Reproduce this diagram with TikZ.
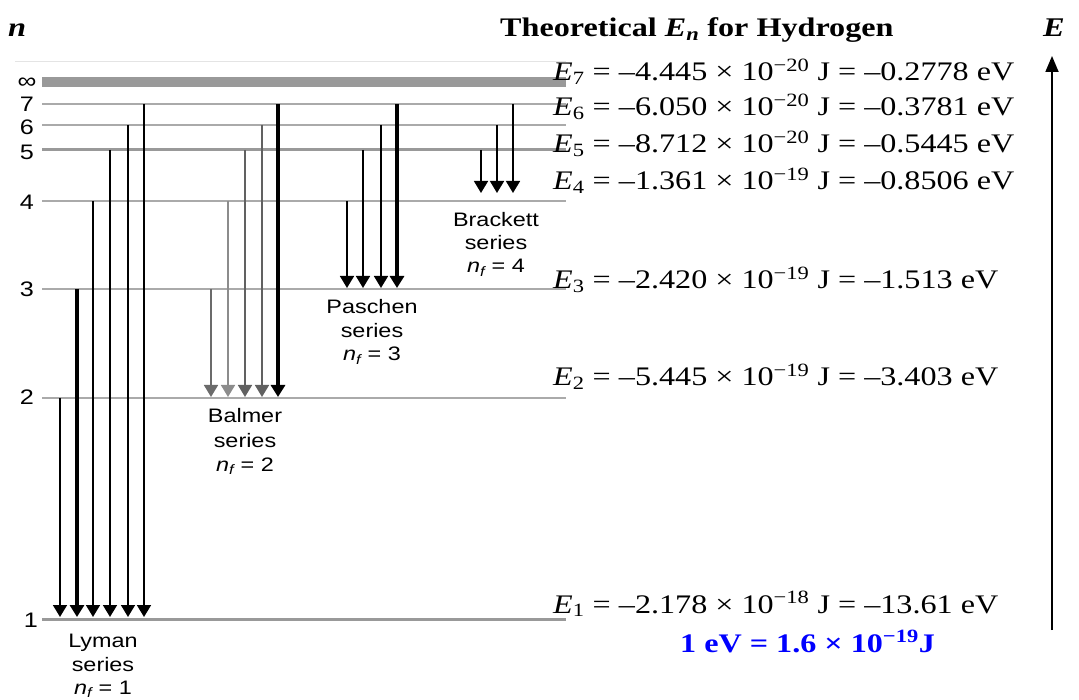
\documentclass[tikz,border=0pt]{standalone}
\usepackage{graphicx}
\usepackage{fontspec}
\setmainfont{Liberation Serif}
\newfontfamily\lsans{Liberation Sans}
\usetikzlibrary{arrows.meta}
\definecolor{levgray}{HTML}{AAAAAA}
\definecolor{bargray}{HTML}{999999}
\definecolor{faint}{HTML}{E4E4E4}
\newcommand\hstretch[1]{\scalebox{1.2}[1]{#1}}
\newcommand\Eline[4]{\textit{E}\textsubscript{#1} = –#2 × 10\textsuperscript{−#3} J = –#4 eV}
\newcommand\nf[1]{{\itshape n}\textsubscript{\itshape f} = #1}
\begin{document}
\begin{tikzpicture}[x=1pt,y=-1pt,
  lev/.style={draw=levgray, line width=2pt},
  levthick/.style={draw=bargray, line width=3pt},
  lvlab/.style={inner sep=0pt, anchor=base, font=\lsans\fontsize{21}{21}\selectfont},
  serlab/.style={inner sep=0pt, anchor=base, font=\lsans\fontsize{19.5}{20}\selectfont},
  eline/.style={inner sep=0pt, anchor=base west, font=\fontsize{26.8}{30}\selectfont},
  trans/.style={-{Triangle[width=14pt,length=12pt]}},
]
\useasboundingbox (0,0) rectangle (1079,700);

% faint top line and infinity bar
\coordinate (fw) at (15,62); \coordinate (fe) at (566,62);
\draw[draw=faint, line width=1pt] (fw) -- (fe);
\coordinate (infw) at (42,82); \coordinate (infe) at (566,82);
\draw[draw=bargray, line width=10pt] (infw) -- (infe);

% levels
\foreach \n/\y/\s in {7/104/lev,6/125/lev,5/150/levthick,4/201/lev,3/289/lev,2/398/lev,1/619/levthick}{
  \coordinate (lv\n w) at (42,\y);
  \coordinate (lv\n e) at (566,\y);
  \draw[\s] (lv\n w) -- (lv\n e);
}

% level labels
\node[lvlab, font=\lsans\fontsize{22}{22}\selectfont] (ninf) at (27,89) {\hstretch{∞}};
\node[lvlab] (n7) at (27,112) {\hstretch{7}};
\node[lvlab] (n6) at (27,135) {\hstretch{6}};
\node[lvlab] (n5) at (27,160) {\hstretch{5}};
\node[lvlab] (n4) at (27,210) {\hstretch{4}};
\node[lvlab] (n3) at (27,297) {\hstretch{3}};
\node[lvlab] (n2) at (27,405) {\hstretch{2}};
\node[lvlab] (n1) at (31,627) {\hstretch{1}};

% Lyman
\foreach \i/\x/\yt/\w in {1/60/398/1.6, 2/77/289/3.2, 3/93/201/1.6, 4/110/150/1.8, 5/128/125/1.6, 6/144/104/1.8}{
  \coordinate (Ly\i s) at (\x,\yt);
  \coordinate (Ly\i e) at (\x,617);
  \draw[trans, line width=\w pt] (Ly\i s) -- (Ly\i e);
}
% Balmer
\foreach \i/\x/\yt/\w/\c in {1/211/289/1.6/black!58, 2/228/201/1.6/black!45, 3/245/150/1.6/black!62, 4/262/125/1.6/black!62, 5/278/104/3.2/black}{
  \coordinate (Ba\i s) at (\x,\yt);
  \coordinate (Ba\i e) at (\x,397);
  \draw[trans, line width=\w pt, draw=\c] (Ba\i s) -- (Ba\i e);
}
% Paschen
\foreach \i/\x/\yt/\w in {1/347/201/1.6, 2/363/150/1.6, 3/381/125/1.6, 4/397/104/3.2}{
  \coordinate (Pa\i s) at (\x,\yt);
  \coordinate (Pa\i e) at (\x,288);
  \draw[trans, line width=\w pt] (Pa\i s) -- (Pa\i e);
}
% Brackett
\foreach \i/\x/\yt/\w in {1/481/150/1.6, 2/497/125/1.6, 3/513/104/1.6}{
  \coordinate (Br\i s) at (\x,\yt);
  \coordinate (Br\i e) at (\x,193);
  \draw[trans, line width=\w pt] (Br\i s) -- (Br\i e);
}

% series labels
\node[serlab] (ly1) at (103,647) {\hstretch{Lyman}};
\node[serlab] (ly2) at (103,671) {\hstretch{series}};
\node[serlab] (ly3) at (103,694) {\hstretch{\nf{1}}};
\node[serlab] (ba1) at (245,423) {\hstretch{Balmer}};
\node[serlab] (ba2) at (245,447) {\hstretch{series}};
\node[serlab] (ba3) at (245,471) {\hstretch{\nf{2}}};
\node[serlab] (pa1) at (372,314) {\hstretch{Paschen}};
\node[serlab] (pa2) at (372,338) {\hstretch{series}};
\node[serlab] (pa3) at (372,361) {\hstretch{\nf{3}}};
\node[serlab] (br1) at (496,227) {\hstretch{Brackett}};
\node[serlab] (br2) at (496,250) {\hstretch{series}};
\node[serlab] (br3) at (496,273) {\hstretch{\nf{4}}};

% headings
\node[eline, font=\fontsize{27}{30}\selectfont\bfseries\itshape] (nhead) at (8,37) {\hstretch{n}};
\node[eline, font=\fontsize{26.8}{30}\selectfont\bfseries] (title) at (500,37) {\hstretch{Theoretical \textit{E}\textsubscript{\textit{n}} for Hydrogen}};
\node[eline, font=\fontsize{27}{30}\selectfont\bfseries\itshape] (Ehead) at (1043,37) {\hstretch{E}};

% energy values
\node[eline] (E7) at (553,81) {\hstretch{\Eline{7}{4.445}{20}{0.2778}}};
\node[eline] (E6) at (553,116) {\hstretch{\Eline{6}{6.050}{20}{0.3781}}};
\node[eline] (E5) at (553,153) {\hstretch{\Eline{5}{8.712}{20}{0.5445}}};
\node[eline] (E4) at (553,190) {\hstretch{\Eline{4}{1.361}{19}{0.8506}}};
\node[eline] (E3) at (553,289) {\hstretch{\Eline{3}{2.420}{19}{1.513}}};
\node[eline] (E2) at (553,386) {\hstretch{\Eline{2}{5.445}{19}{3.403}}};
\node[eline] (E1) at (553,613) {\hstretch{\Eline{1}{2.178}{18}{13.61}}};
\node[eline, font=\fontsize{26.8}{30}\selectfont\bfseries, text=blue] (conv) at (680,652) {\hstretch{1 eV = 1.6 × 10\textsuperscript{−19}J}};

% energy axis
\coordinate (Ebot) at (1052,630);
\coordinate (Etop) at (1052,56);
\draw[-{Triangle[width=13pt,length=16pt]}, line width=1.8pt] (Ebot) -- (Etop);
\end{tikzpicture}
\end{document}
